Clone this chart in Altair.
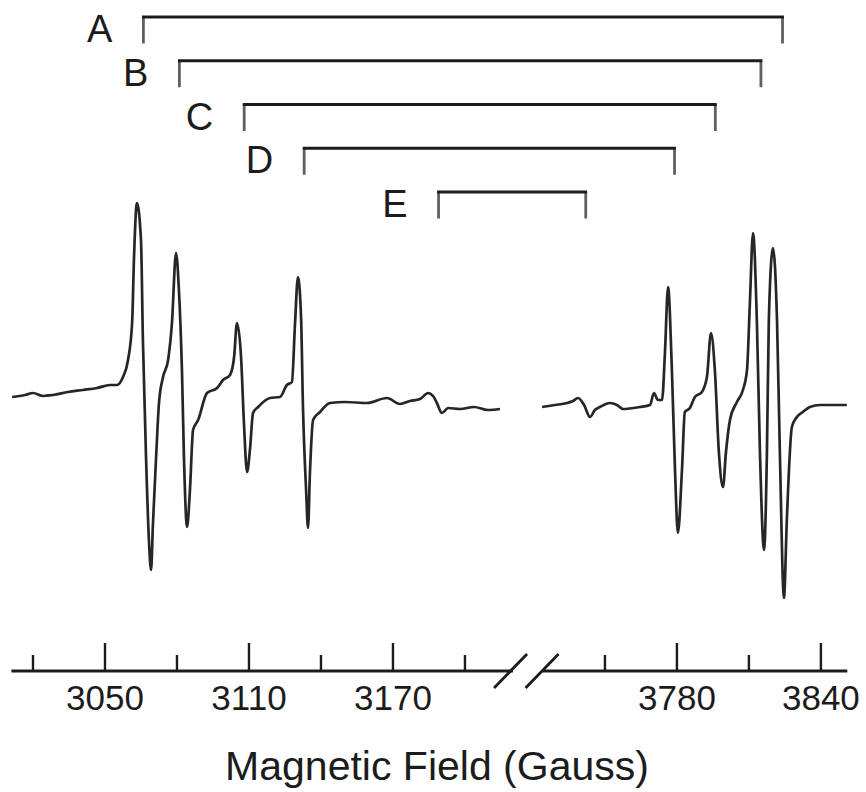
import altair as alt
import pandas as pd

# EPR derivative spectrum, low-field segment (field in gauss, signal in arbitrary units)
low_field = [3011.3, 3016.7, 3020.0, 3024.2, 3028.3, 3034.6, 3040.8, 3046.7, 3052.1, 3055.0,
             3057.5, 3059.6, 3061.3, 3062.1, 3063.3, 3065.0, 3065.8, 3067.1, 3068.3, 3069.2,
             3070.0, 3071.3, 3072.5, 3074.2, 3076.3, 3077.9, 3079.6, 3080.8, 3082.1, 3082.9,
             3084.2, 3085.4, 3086.7, 3088.8, 3092.5, 3096.7, 3099.2, 3102.1, 3103.8, 3105.0,
             3106.7, 3107.9, 3109.2, 3110.4, 3111.7, 3113.8, 3118.8, 3122.9, 3125.8, 3127.9,
             3129.2, 3130.4, 3131.7, 3132.5, 3133.8, 3134.6, 3135.4, 3136.7, 3139.6, 3143.8,
             3150.0, 3159.2, 3167.5, 3172.9, 3177.1, 3181.3, 3184.6, 3186.7, 3188.3, 3190.4,
             3193.0, 3198.0, 3203.8, 3209.6, 3214.6]
low_signal = [3, 5, 7, 4, 5, 8, 10, 12, 15, 15,
              23, 40, 77, 143, 197, 160, 60, -57, -140, -170,
              -123, -57, -3, 23, 40, 77, 147, 110, 27, -57,
              -127, -90, -30, -20, 7, 12, 20, 25, 43, 77,
              43, -23, -72, -50, -13, -7, 2, 3, 15, 18,
              77, 123, 83, -7, -90, -128, -73, -20, -12, -3,
              -2, -3, 2, -4, -1, 1, 7, 4, -3, -13,
              -8, -9, -7, -10, -9]

# High-field segment
high_field = [3723.8, 3729.2, 3734.2, 3736.7, 3738.8, 3741.3, 3743.8, 3745.8, 3747.9, 3752.1,
              3755.0, 3757.5, 3764.6, 3768.8, 3770.4, 3772.1, 3773.8, 3775.0, 3776.3, 3777.9,
              3779.2, 3780.4, 3782.1, 3783.3, 3785.4, 3787.5, 3790.4, 3792.5, 3794.2, 3795.8,
              3797.5, 3799.2, 3800.4, 3802.1, 3805.0, 3807.5, 3809.2, 3810.4, 3811.7, 3813.3,
              3814.6, 3816.3, 3817.5, 3818.3, 3820.0, 3821.7, 3822.9, 3824.6, 3825.8, 3827.9,
              3830.0, 3832.5, 3835.4, 3839.6, 3850.8]
high_signal = [-7, -5, -3, -1, 2, -5, -17, -10, -7, -3,
               -5, -9, -7, -5, 7, 0, 0, 47, 113, 30,
               -70, -133, -70, -12, -8, 3, 8, 23, 67, 30,
               -53, -87, -53, -20, -2, 10, 30, 97, 167, 80,
               -53, -150, -53, 80, 152, 80, -53, -198, -120, -27,
               -17, -12, -7, -5, -5]

# Axis ticks (gauss)
tick_major = [3050, 3110, 3170, 3780, 3840]
tick_minor = [3020, 3080, 3140, 3200, 3750, 3810]

# Line pairs: low-field and high-field positions of each species
pair_names = ["A", "B", "C", "D", "E"]
pair_low = [3066, 3081, 3108, 3133, 3189]
pair_high = [3824, 3815, 3796, 3779, 3742]

# Extent of the two axis segments (gauss)
axis_low = [3011, 3220]
axis_high = [3724, 3851]

# Broken axis: fields above the break are shifted left onto one continuous position scale
BREAK = 3500
SHIFT = 491.67
pos_expr = f"datum.field < {BREAK} ? datum.field : datum.field - {SHIFT}"


def to_pos(g):
    return g if g < BREAK else g - SHIFT


INK = "#1c1c1c"
FONT = "Liberation Sans"

x_scale = alt.Scale(domain=[3011.25, 3359.2], nice=False, zero=False)

spec = pd.DataFrame({
    "field": low_field + high_field,
    "signal": low_signal + high_signal,
    "segment": ["low"] * len(low_field) + ["high"] * len(high_field),
})

trace = alt.Chart(spec).transform_calculate(pos=pos_expr).mark_line(
    color="#262626", strokeWidth=2.7, strokeJoin="round", interpolate="monotone"
).encode(
    x=alt.X("pos:Q", scale=x_scale, axis=None),
    y=alt.Y("signal:Q", scale=alt.Scale(domain=[-392, 400], nice=False, zero=False), axis=None),
    detail="segment:N",
    order="field:Q",
)

pairs = pd.DataFrame({"name": pair_names, "lo": pair_low, "hi": pair_high})
row_y = alt.Y("name:N", scale=alt.Scale(type="point", range=[17, 192], padding=0), axis=None)

pair_base = alt.Chart(pairs).transform_calculate(
    lo_pos=f"datum.lo < {BREAK} ? datum.lo : datum.lo - {SHIFT}",
    hi_pos=f"datum.hi < {BREAK} ? datum.hi : datum.hi - {SHIFT}",
)

bracket_top = pair_base.mark_rule(color=INK, strokeWidth=2.8, strokeCap="square").encode(
    x=alt.X("lo_pos:Q", scale=x_scale),
    x2="hi_pos:Q",
    y=row_y,
)
bracket_left = pair_base.mark_tick(
    color=INK, orient="vertical", size=27, thickness=2.8, yOffset=13
).encode(x=alt.X("lo_pos:Q", scale=x_scale), y=row_y)
bracket_right = pair_base.mark_tick(
    color=INK, orient="vertical", size=27, thickness=2.8, yOffset=13
).encode(x=alt.X("hi_pos:Q", scale=x_scale), y=row_y)
bracket_text = pair_base.mark_text(
    align="right", baseline="middle", dx=-31, dy=14, fontSize=38, font=FONT, color=INK
).encode(x=alt.X("lo_pos:Q", scale=x_scale), y=row_y, text="name:N")

# Axis line segments
segs = pd.DataFrame({"start": [axis_low[0], axis_high[0]], "end": [axis_low[1], axis_high[1]]})
axis_line = alt.Chart(segs).transform_calculate(
    s=f"datum.start < {BREAK} ? datum.start : datum.start - {SHIFT}",
    e=f"datum.end < {BREAK} ? datum.end : datum.end - {SHIFT}",
).mark_rule(color=INK, strokeWidth=2.8).encode(
    x=alt.X("s:Q", scale=x_scale), x2="e:Q", y=alt.value(671)
)

# Break marks: two slashes across the gap between the segments
gap_lo = to_pos(axis_low[1])
gap_hi = to_pos(axis_high[0])
half = 16.5 / 2.4
slashes = pd.DataFrame({"c": [gap_lo - 1.0, gap_hi - 0.2]})
slash = alt.Chart(slashes).transform_calculate(
    a=f"datum.c - {half}", b=f"datum.c + {half}"
).mark_rule(color=INK, strokeWidth=2.8).encode(
    x=alt.X("a:Q", scale=x_scale), x2="b:Q", y=alt.value(688), y2=alt.value(654)
)

major = pd.DataFrame({"field": tick_major})
minor = pd.DataFrame({"field": tick_minor})

major_ticks = alt.Chart(major).transform_calculate(pos=pos_expr).mark_rule(
    color=INK, strokeWidth=2.4
).encode(x=alt.X("pos:Q", scale=x_scale), y=alt.value(671), y2=alt.value(643))
minor_ticks = alt.Chart(minor).transform_calculate(pos=pos_expr).mark_rule(
    color=INK, strokeWidth=2.4
).encode(x=alt.X("pos:Q", scale=x_scale), y=alt.value(671), y2=alt.value(655))
tick_labels = alt.Chart(major).transform_calculate(pos=pos_expr).mark_text(
    align="center", baseline="alphabetic", fontSize=35, font=FONT, color=INK
).encode(x=alt.X("pos:Q", scale=x_scale), y=alt.value(710), text="field:Q")

title = alt.Chart(pd.DataFrame({"t": ["Magnetic Field (Gauss)"]})).mark_text(
    align="center", baseline="alphabetic", fontSize=41, font=FONT, color=INK
).encode(x=alt.value(425), y=alt.value(780), text="t:N")

chart = alt.layer(
    trace, bracket_top, bracket_left, bracket_right, bracket_text,
    axis_line, slash, major_ticks, minor_ticks, tick_labels, title,
).resolve_scale(y="independent").properties(
    width=835, height=792,
    autosize=alt.AutoSizeParams(type="none"),
    padding={"left": 12, "top": 0, "right": 19, "bottom": 0},
    background="white",
).configure_view(stroke=None)

chart.save("out.html", embed_options={"renderer": "svg", "actions": False})
